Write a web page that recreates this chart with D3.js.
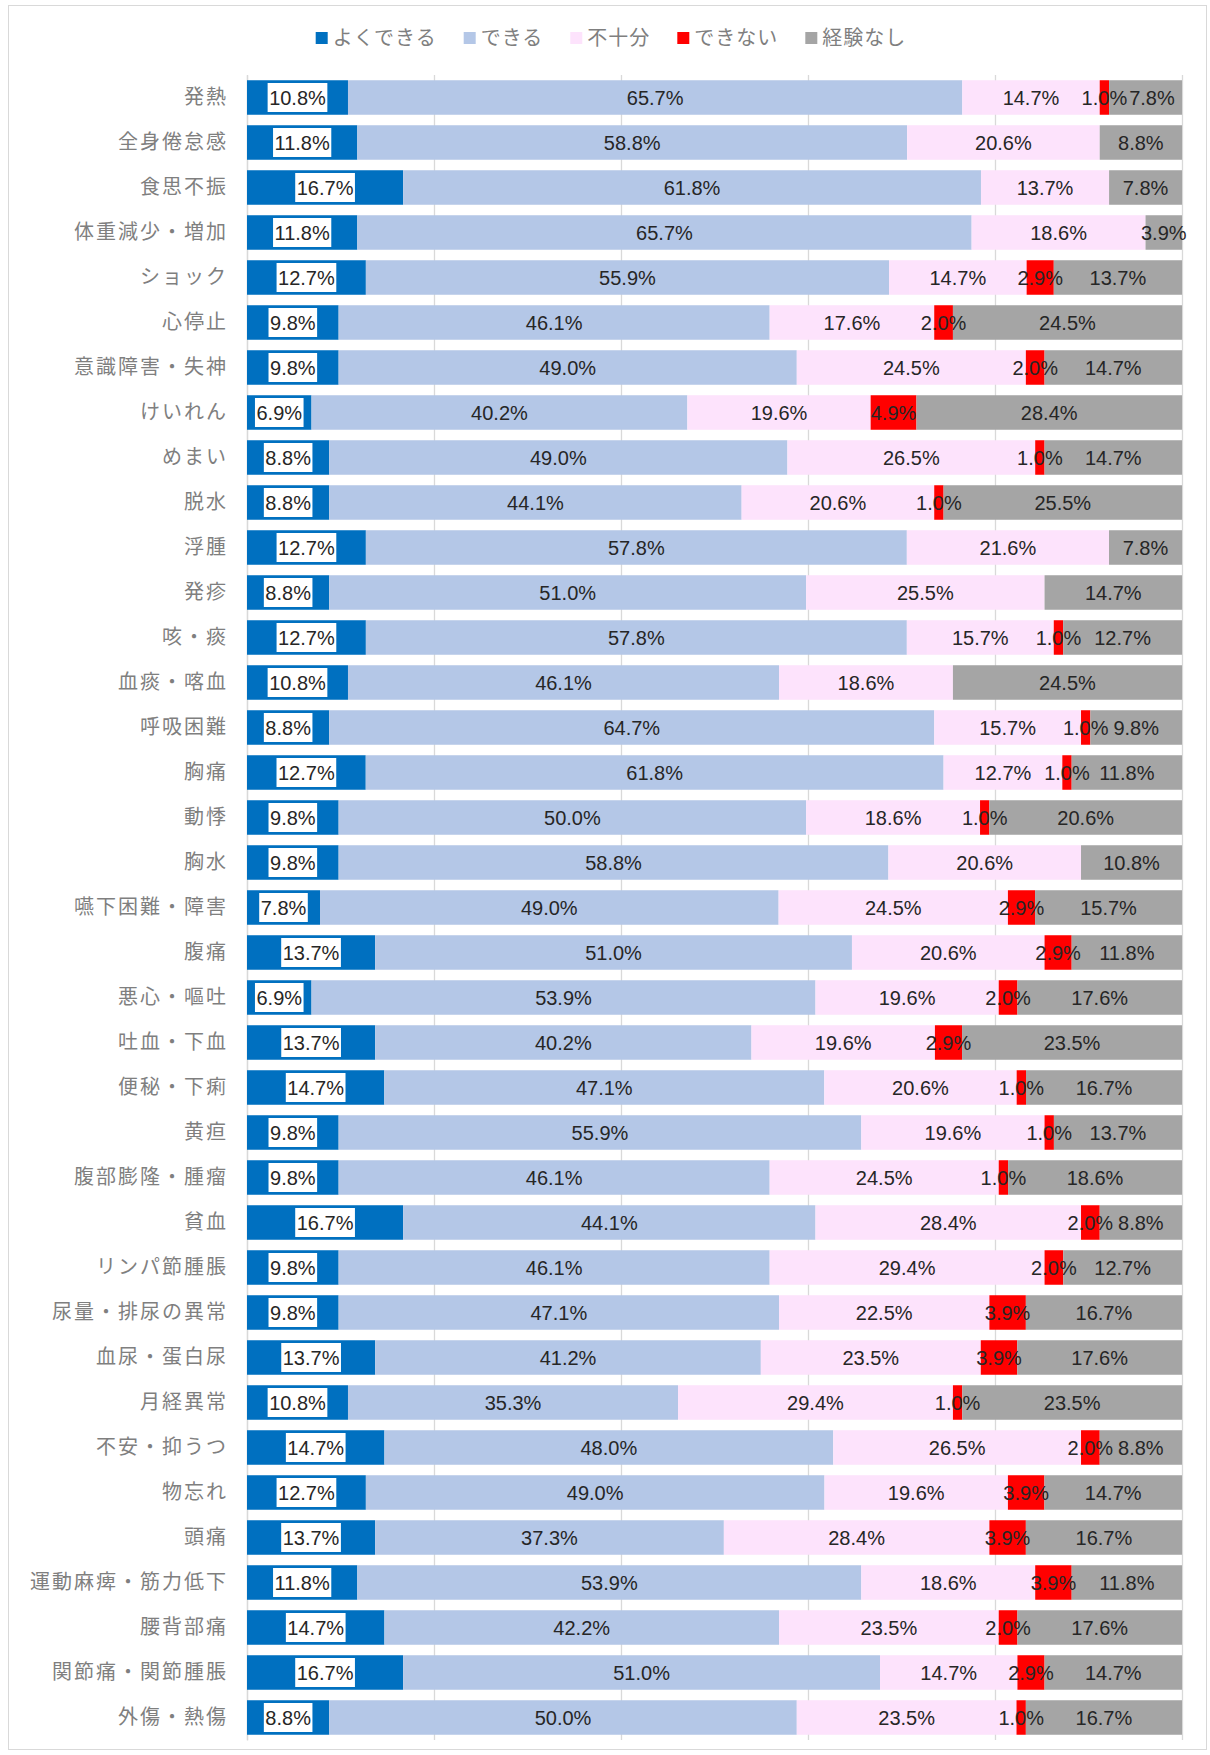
<!DOCTYPE html>
<html>
<head>
<meta charset="utf-8">
<script src="https://cdn.jsdelivr.net/npm/d3@7"></script>
<style>
  body { margin: 0; background: #fff; }
  svg { display: block; }
</style>
</head>
<body>
<svg id="chart" width="1210" height="1755"></svg>
<script>

var categories = [
    '発熱', '全身倦怠感', '食思不振', '体重減少・増加', 'ショック', '心停止', '意識障害・失神',
    'けいれん', 'めまい', '脱水', '浮腫', '発疹', '咳・痰', '血痰・喀血', '呼吸困難', '胸痛',
    '動悸', '胸水', '嚥下困難・障害', '腹痛', '悪心・嘔吐', '吐血・下血', '便秘・下痢', '黄疸',
    '腹部膨隆・腫瘤', '貧血', 'リンパ節腫脹', '尿量・排尿の異常', '血尿・蛋白尿', '月経異常',
    '不安・抑うつ', '物忘れ', '頭痛', '運動麻痺・筋力低下', '腰背部痛', '関節痛・関節腫脹', '外傷・熱傷'
];

var seriesNames = ['よくできる', 'できる', '不十分', 'できない', '経験なし'];

var yokuDekiru = [10.8, 11.8, 16.7, 11.8, 12.7, 9.8, 9.8, 6.9, 8.8, 8.8, 12.7, 8.8, 12.7, 10.8, 8.8, 12.7,
    9.8, 9.8, 7.8, 13.7, 6.9, 13.7, 14.7, 9.8, 9.8, 16.7, 9.8, 9.8, 13.7, 10.8, 14.7, 12.7, 13.7, 11.8, 14.7, 16.7, 8.8];
var dekiru = [65.7, 58.8, 61.8, 65.7, 55.9, 46.1, 49.0, 40.2, 49.0, 44.1, 57.8, 51.0, 57.8, 46.1, 64.7, 61.8,
    50.0, 58.8, 49.0, 51.0, 53.9, 40.2, 47.1, 55.9, 46.1, 44.1, 46.1, 47.1, 41.2, 35.3, 48.0, 49.0, 37.3, 53.9, 42.2, 51.0, 50.0];
var fujubun = [14.7, 20.6, 13.7, 18.6, 14.7, 17.6, 24.5, 19.6, 26.5, 20.6, 21.6, 25.5, 15.7, 18.6, 15.7, 12.7,
    18.6, 20.6, 24.5, 20.6, 19.6, 19.6, 20.6, 19.6, 24.5, 28.4, 29.4, 22.5, 23.5, 29.4, 26.5, 19.6, 28.4, 18.6, 23.5, 14.7, 23.5];
var dekinai = [1.0, 0, 0, 0, 2.9, 2.0, 2.0, 4.9, 1.0, 1.0, 0, 0, 1.0, 0, 1.0, 1.0,
    1.0, 0, 2.9, 2.9, 2.0, 2.9, 1.0, 1.0, 1.0, 2.0, 2.0, 3.9, 3.9, 1.0, 2.0, 3.9, 3.9, 3.9, 2.0, 2.9, 1.0];
var keikenNashi = [7.8, 8.8, 7.8, 3.9, 13.7, 24.5, 14.7, 28.4, 14.7, 25.5, 7.8, 14.7, 12.7, 24.5, 9.8, 11.8,
    20.6, 10.8, 15.7, 11.8, 17.6, 23.5, 16.7, 13.7, 18.6, 8.8, 12.7, 16.7, 17.6, 23.5, 8.8, 14.7, 16.7, 11.8, 17.6, 14.7, 16.7];

var xTicks = [0, 0.2, 0.4, 0.6, 0.8, 1];

var colors = ['#0070C0', '#B4C7E7', '#FDE3FC', '#FF0000', '#A5A5A5'];

var plotLeft = 247, plotRight = 1182, plotTop = 75, plotBottom = 1740;
var labelFont = '"Liberation Sans", Arial, sans-serif';
var jpFont = '"Noto Sans CJK JP", "Noto Sans", sans-serif';

var rows = categories.map(function(c, i) {
    return {
        cat: c,
        s0: yokuDekiru[i],
        s1: dekiru[i],
        s2: fujubun[i],
        s3: dekinai[i],
        s4: keikenNashi[i]
    };
});
var keys = ['s0', 's1', 's2', 's3', 's4'];

// 100% stacked, like the excel chart
var stacked = d3.stack().keys(keys).offset(d3.stackOffsetExpand)(rows);

var x = d3.scaleLinear().domain([0, 1]).range([plotLeft, plotRight]);
var y = d3.scaleBand().domain(categories).range([plotTop, plotBottom])
    .paddingInner(0.233).paddingOuter(0.1165);

var svg = d3.select('#chart');

// outer frame
svg.append('rect')
    .attr('x', 8.5).attr('y', 5.5)
    .attr('width', 1198).attr('height', 1744)
    .attr('fill', '#fff')
    .attr('stroke', '#d9d9d9')
    .attr('stroke-width', 1);

// gridlines
var grid = svg.append('g')
    .attr('transform', 'translate(0,' + plotBottom + ')')
    .call(d3.axisBottom(x).tickValues(xTicks).tickSize(-(plotBottom - plotTop)).tickFormat(''));
grid.select('.domain').remove();
grid.selectAll('.tick line').attr('stroke', '#d9d9d9').attr('stroke-width', 1.3);

// left axis with category names
var yAxis = svg.append('g')
    .attr('transform', 'translate(' + plotLeft + ',0)')
    .call(d3.axisLeft(y).tickSize(0).tickPadding(19));
yAxis.select('.domain').attr('stroke', '#d9d9d9').attr('stroke-width', 1.3);
yAxis.selectAll('.tick text')
    .attr('fill', '#7f7f7f')
    .style('font-family', jpFont)
    .style('font-size', '20px')
    .style('letter-spacing', '2px');

// bars
svg.append('g')
    .selectAll('g')
    .data(stacked)
    .join('g')
    .attr('fill', function(d, i) { return colors[i]; })
    .selectAll('rect')
    .data(function(d) { return d; })
    .join('rect')
    .attr('x', function(d) { return x(d[0]); })
    .attr('y', function(d) { return y(d.data.cat); })
    .attr('width', function(d) { return x(d[1]) - x(d[0]); })
    .attr('height', y.bandwidth());

// data labels
var labelLayer = svg.append('g');
rows.forEach(function(row, r) {
    var cy = y(row.cat) + y.bandwidth() / 2;
    var lastRight = -Infinity;
    stacked.forEach(function(layer, k) {
        var seg = layer[r];
        var v = row[keys[k]];
        if (!v) return;
        var cx = (x(seg[0]) + x(seg[1])) / 2;
        var g = labelLayer.append('g');
        var t = g.append('text')
            .attr('x', cx)
            .attr('y', cy)
            .attr('dy', '0.36em')
            .attr('text-anchor', 'middle')
            .attr('fill', '#262626')
            .style('font-family', labelFont)
            .style('font-size', '20px')
            .text(v.toFixed(1) + '%');
        var w = t.node().getComputedTextLength();
        // push a label right when it runs into the one before it
        if (cx - w / 2 < lastRight) {
            cx = lastRight + 2 + w / 2;
            t.attr('x', cx);
        }
        lastRight = cx + w / 2;
        if (k == 0) {
            g.insert('rect', 'text')
                .attr('x', cx - w / 2 - 1.5)
                .attr('y', cy - 14.5)
                .attr('width', w + 3)
                .attr('height', 29)
                .attr('fill', '#fff');
        }
    });
});

// legend
var legend = svg.append('g');
var lx = 0;
seriesNames.forEach(function(name, i) {
    legend.append('rect')
        .attr('x', lx).attr('y', 32)
        .attr('width', 12).attr('height', 12)
        .attr('fill', colors[i]);
    var t = legend.append('text')
        .attr('x', lx + 17)
        .attr('y', 38)
        .attr('dy', '0.36em')
        .attr('fill', '#7f7f7f')
        .style('font-family', jpFont)
        .style('font-size', '20px')
        .style('letter-spacing', '1px')
        .text(name);
    lx += 17 + t.node().getComputedTextLength() + 27;
});
var legendW = lx - 27;
legend.attr('transform', 'translate(' + (611 - legendW / 2) + ',0)');

</script>
</body>
</html>
